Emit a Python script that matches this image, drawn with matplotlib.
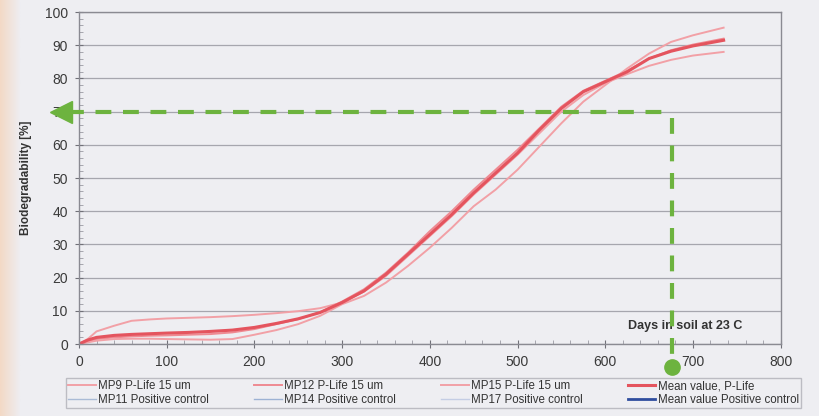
import numpy as np
import matplotlib.pyplot as plt
from matplotlib.ticker import MultipleLocator
from matplotlib.colors import LinearSegmentedColormap

plt.rcParams['font.family'] = ['Liberation Sans', 'DejaVu Sans']

# days in soil (sample points)
days = [0, 10, 20, 40, 60, 80, 100, 125, 150, 175, 200, 225, 250, 275, 300, 325,
        350, 375, 400, 425, 450, 475, 500, 525, 550, 575, 600, 625, 650, 675, 700, 735]

# biodegradability [%]
mp9 = [0, 1.5, 3.8, 5.5, 7.0, 7.4, 7.7, 7.9, 8.1, 8.4, 8.8, 9.3, 9.9, 10.8, 12.5, 15.8,
       20.5, 26.5, 32.5, 38.5, 45.0, 51.0, 57.0, 63.5, 70.0, 75.0, 78.6, 81.3, 83.8, 85.6, 86.9, 88.0]
mp12 = [0, 0.8, 1.5, 2.0, 2.3, 2.5, 2.6, 2.8, 3.0, 3.5, 4.5, 6.0, 7.5, 9.6, 12.8, 16.5,
        21.5, 27.5, 34.0, 40.0, 46.5, 52.5, 58.5, 65.0, 71.5, 76.3, 79.3, 82.3, 86.0, 88.5, 90.2, 92.0]
mp15 = [0, 0.5, 1.0, 1.5, 1.6, 1.6, 1.5, 1.4, 1.3, 1.5, 2.8, 4.2, 6.0, 8.5, 12.0, 14.5,
        18.5, 23.5, 29.0, 35.0, 41.5, 46.5, 52.5, 59.5, 66.5, 73.0, 78.0, 83.0, 87.5, 91.0, 93.0, 95.3]
mean_plife = [0, 1.2, 2.0, 2.6, 2.9, 3.1, 3.3, 3.5, 3.8, 4.2, 5.0, 6.2, 7.6, 9.5, 12.5, 16.0,
              21.0, 27.0, 33.0, 39.0, 45.5, 51.5, 57.5, 64.5, 71.0, 76.0, 79.0, 82.0, 86.0, 88.2, 89.8, 91.5]

# green guide marks
guide_day = 676
guide_level = 70

fig = plt.figure(figsize=(8.2, 4.16), dpi=100)
bg = '#eeeef2'
fig.patch.set_facecolor(bg)

# faint warm tint along the left edge of the scan
edge = fig.add_axes([0, 0, 0.025, 1])
edge.imshow(np.linspace(0, 1, 20)[None, :], aspect='auto', extent=(0, 1, 0, 1),
            cmap=LinearSegmentedColormap.from_list('edge', ['#f3d9c6', bg]))
edge.axis('off')

ax = fig.add_axes([0.0963, 0.173, 0.8557, 0.798])
ax.set_facecolor(bg)

pink = '#f2a0a6'
red = '#e4545e'
l1, = ax.plot(days, mp9, color=pink, lw=1.4)
l2, = ax.plot(days, mp12, color='#ef8a92', lw=1.4)
l3, = ax.plot(days, mp15, color=pink, lw=1.4)
l4, = ax.plot(days, mean_plife, color=red, lw=2.2)
# positive control series (no visible data on chart, legend only)
b1, = ax.plot([], [], color='#aabbd6', lw=1)
b2, = ax.plot([], [], color='#9db2d4', lw=1)
b3, = ax.plot([], [], color='#c4cde4', lw=1)
b4, = ax.plot([], [], color='#2f4d9e', lw=2)

ax.set_xlim(0, 800)
ax.set_ylim(0, 100)
ax.xaxis.set_major_locator(MultipleLocator(100))
ax.xaxis.set_minor_locator(MultipleLocator(20))
ax.yaxis.set_major_locator(MultipleLocator(10))
ax.yaxis.set_minor_locator(MultipleLocator(2))
ax.grid(axis='y', color='#a6a6ae', lw=0.9)
ax.set_axisbelow(True)
for s in ax.spines.values():
    s.set_color('#8a8a92')
    s.set_linewidth(1.0)
ax.tick_params(which='major', direction='inout', length=6, color='#707078',
               labelsize=10, labelcolor='#3a3a3a', pad=5)
ax.tick_params(which='minor', direction='in', length=3, color='#9a9aa2')
ax.set_ylabel('Biodegradability [%]', fontsize=8.5, fontweight='bold', color='#333333', labelpad=9)

ax.text(691, 5.4, 'Days in soil at 23 C', fontsize=9, fontweight='bold', color='#333333',
        ha='center', va='center', zorder=4)

green = '#6db33f'
dash = (0, (3.8, 2.8))
ax.plot([-12, guide_day], [guide_level, guide_level], color=green, lw=3.0,
        ls=dash, clip_on=False, zorder=5)
ax.plot([guide_day, guide_day], [guide_level - 2, -5], color=green, lw=3.0,
        ls=dash, clip_on=False, zorder=5)
ax.plot([-20], [guide_level], marker='<', color=green, markersize=16, clip_on=False, zorder=6)
ax.plot([guide_day], [-6.8], marker='o', color=green, markersize=11, clip_on=False, zorder=6)

leg = ax.legend([l1, b1, l2, b2, l3, b3, l4, b4],
                ['MP9 P-Life 15 um', 'MP11 Positive control',
                 'MP12 P-Life 15 um', 'MP14 Positive control',
                 'MP15 P-Life 15 um', 'MP17 Positive control',
                 'Mean value, P-Life', 'Mean value Positive control'],
                ncol=4, fontsize=8.3, loc='lower left',
                bbox_to_anchor=(0.073, 0.005, 0.911, 0.08), bbox_transform=fig.transFigure,
                mode='expand', frameon=True, fancybox=False, handlelength=2.4,
                borderpad=0.2, labelspacing=0.12, handletextpad=0.2, columnspacing=0.8)
leg.get_frame().set_facecolor(bg)
leg.get_frame().set_edgecolor('#b0b0b8')
for t in leg.get_texts():
    t.set_color('#333333')

fig.savefig('out.png', dpi=100, facecolor=bg)
